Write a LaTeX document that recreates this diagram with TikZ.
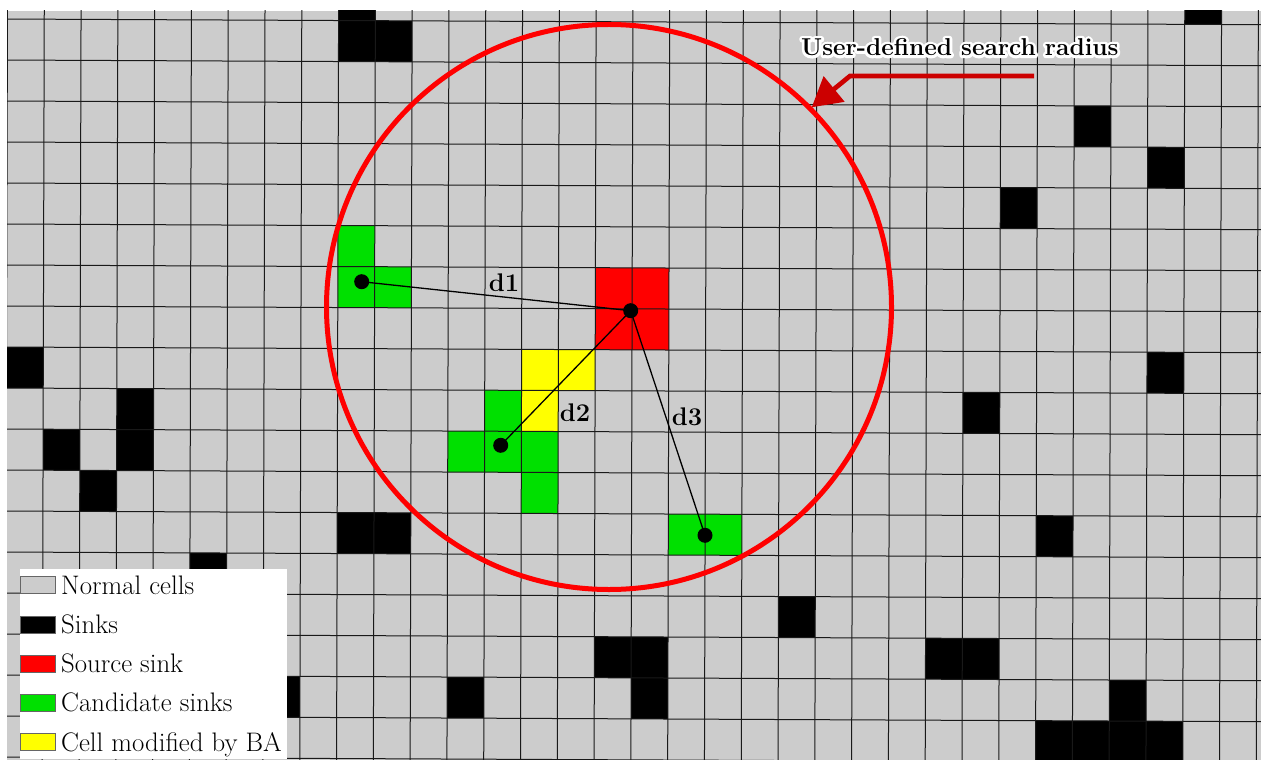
\documentclass[tikz,border=0pt]{standalone}
\usetikzlibrary{arrows.meta}
\definecolor{cellgray}{HTML}{CCCCCC}
\definecolor{srcred}{HTML}{FF0000}
\definecolor{candgreen}{HTML}{00E000}
\definecolor{bayellow}{HTML}{FFFF00}
\definecolor{arrowred}{HTML}{CC0000}
\definecolor{swedge}{HTML}{666666}
\newcommand\gridcell[3]{\fill[#3] ({7.5+36.79*(#1)},{19+41*(#2)}) rectangle ++(36.79,41);}
\newcommand\halotext[1]{\color{white}\special{pdf:literal direct 1 j 1 J 5.5 w 1 G 1 g 2 Tr}#1\special{pdf:literal direct 0 Tr}}
\begin{document}
\begin{tikzpicture}[x=1bp,y=-1bp,
  gridline/.style={black!90, line width=1bp},
  dot/.style={circle, fill=black, inner sep=0pt, minimum size=15bp},
  dist/.style={black, line width=1.3bp},
  dlabel/.style={font=\bfseries\fontsize{25.5bp}{30bp}\selectfont, inner sep=0pt, anchor=base},
  legtext/.style={font=\fontsize{26.8bp}{30bp}\selectfont, inner sep=0pt, anchor=base west},
  swatch/.style={draw=swedge, line width=0.8bp, minimum width=35bp, minimum height=17bp, inner sep=0pt, anchor=south west},
  radiuscircle/.style={srcred, line width=5bp},
  callout/.style={arrowred, line width=4.7bp, line join=miter, -{Triangle[length=29bp,width=32bp]}},
  calloutlabel/.style={font=\bfseries\fontsize{24.4bp}{28bp}\selectfont, inner sep=0pt, anchor=base west},
]
\useasboundingbox (0,0) rectangle (1261,760);
\fill[white] (0,0) rectangle (1261,760);
\begin{scope}
  \clip (7,11) rectangle (1261,760);
  \fill[cellgray] (7,11) rectangle (1261,760);
  \begin{scope}[cm={1,-0.0045,0.0027,1,(0,0)}]
    \foreach \c/\r in {9/-1,9/0,10/0,32/-1,29/2,31/3,27/4,0/8,3/9,3/10,1/10,2/11,9/12,10/12,5/13,7/16,31/8,26/9,28/12,21/14,16/15,17/15,17/16,12/16,25/15,26/15,30/16,28/17,29/17,30/17,31/17,28/18,29/18,30/18,31/18}
      {\gridcell{\c}{\r}{black}}
    \foreach \c/\r in {9/5,9/6,10/6,13/9,12/10,13/10,14/10,14/11,18/12,19/12}
      {\gridcell{\c}{\r}{candgreen}}
    \foreach \c/\r in {16/6,17/6,16/7,17/7}
      {\gridcell{\c}{\r}{srcred}}
    \foreach \c/\r in {14/8,15/8,14/9}
      {\gridcell{\c}{\r}{bayellow}}
    \foreach \k in {0,...,35}
      {\draw[gridline] ({7.5+36.79*\k},-40) -- ++(0,850);}
    \foreach \k in {0,...,19}
      {\draw[gridline] (-20,{19+41*\k}) -- ++(1320,0);}
  \end{scope}
\end{scope}

% search radius
\draw[radiuscircle] (609,307) circle[radius=282.5bp];

% sinks and distances
\node[dot] (src) at (630.7,310.7) {};
\node[dot] (c1) at (361.7,281.7) {};
\node[dot] (c2) at (500.7,445.3) {};
\node[dot] (c3) at (705,535.3) {};
\draw[dist] (src.center) -- (c1.center);
\draw[dist] (src.center) -- (c2.center);
\draw[dist] (src.center) -- (c3.center);
\node[dlabel] (d1) at (504,291.7) {d1};
\node[dlabel] (d2) at (575,421.7) {d2};
\node[dlabel] (d3) at (687,425) {d3};

% callout
\coordinate (arrowstart) at (1034,76);
\coordinate (arrowbend) at (850,76);
\coordinate (arrowtip) at (811.7,107.3);
\draw[callout] (arrowstart) -- (arrowbend) -- (arrowtip);
\node[calloutlabel] (radiushalo) at (801,55.5) {\halotext{User-defined search radius}};
\node[calloutlabel] (radiuslabel) at (801,55.5) {User-defined search radius};

% legend
\node[fill=white, inner sep=0pt, minimum width=267bp, minimum height=189.5bp, anchor=north west] (legend) at (20,569) {};
\foreach \i/\col/\txt/\yb in {1/cellgray/Normal cells/594,2/black/Sinks/633.3,3/srcred/Source sink/672.7,4/candgreen/Candidate sinks/711.7,5/bayellow/Cell modified by BA/751}
{
  \node[swatch, fill=\col] (sw\i) at (19.5,\yb) {};
  \node[legtext] (lt\i) at (61,\yb) {\txt};
}
\end{tikzpicture}
\end{document}
